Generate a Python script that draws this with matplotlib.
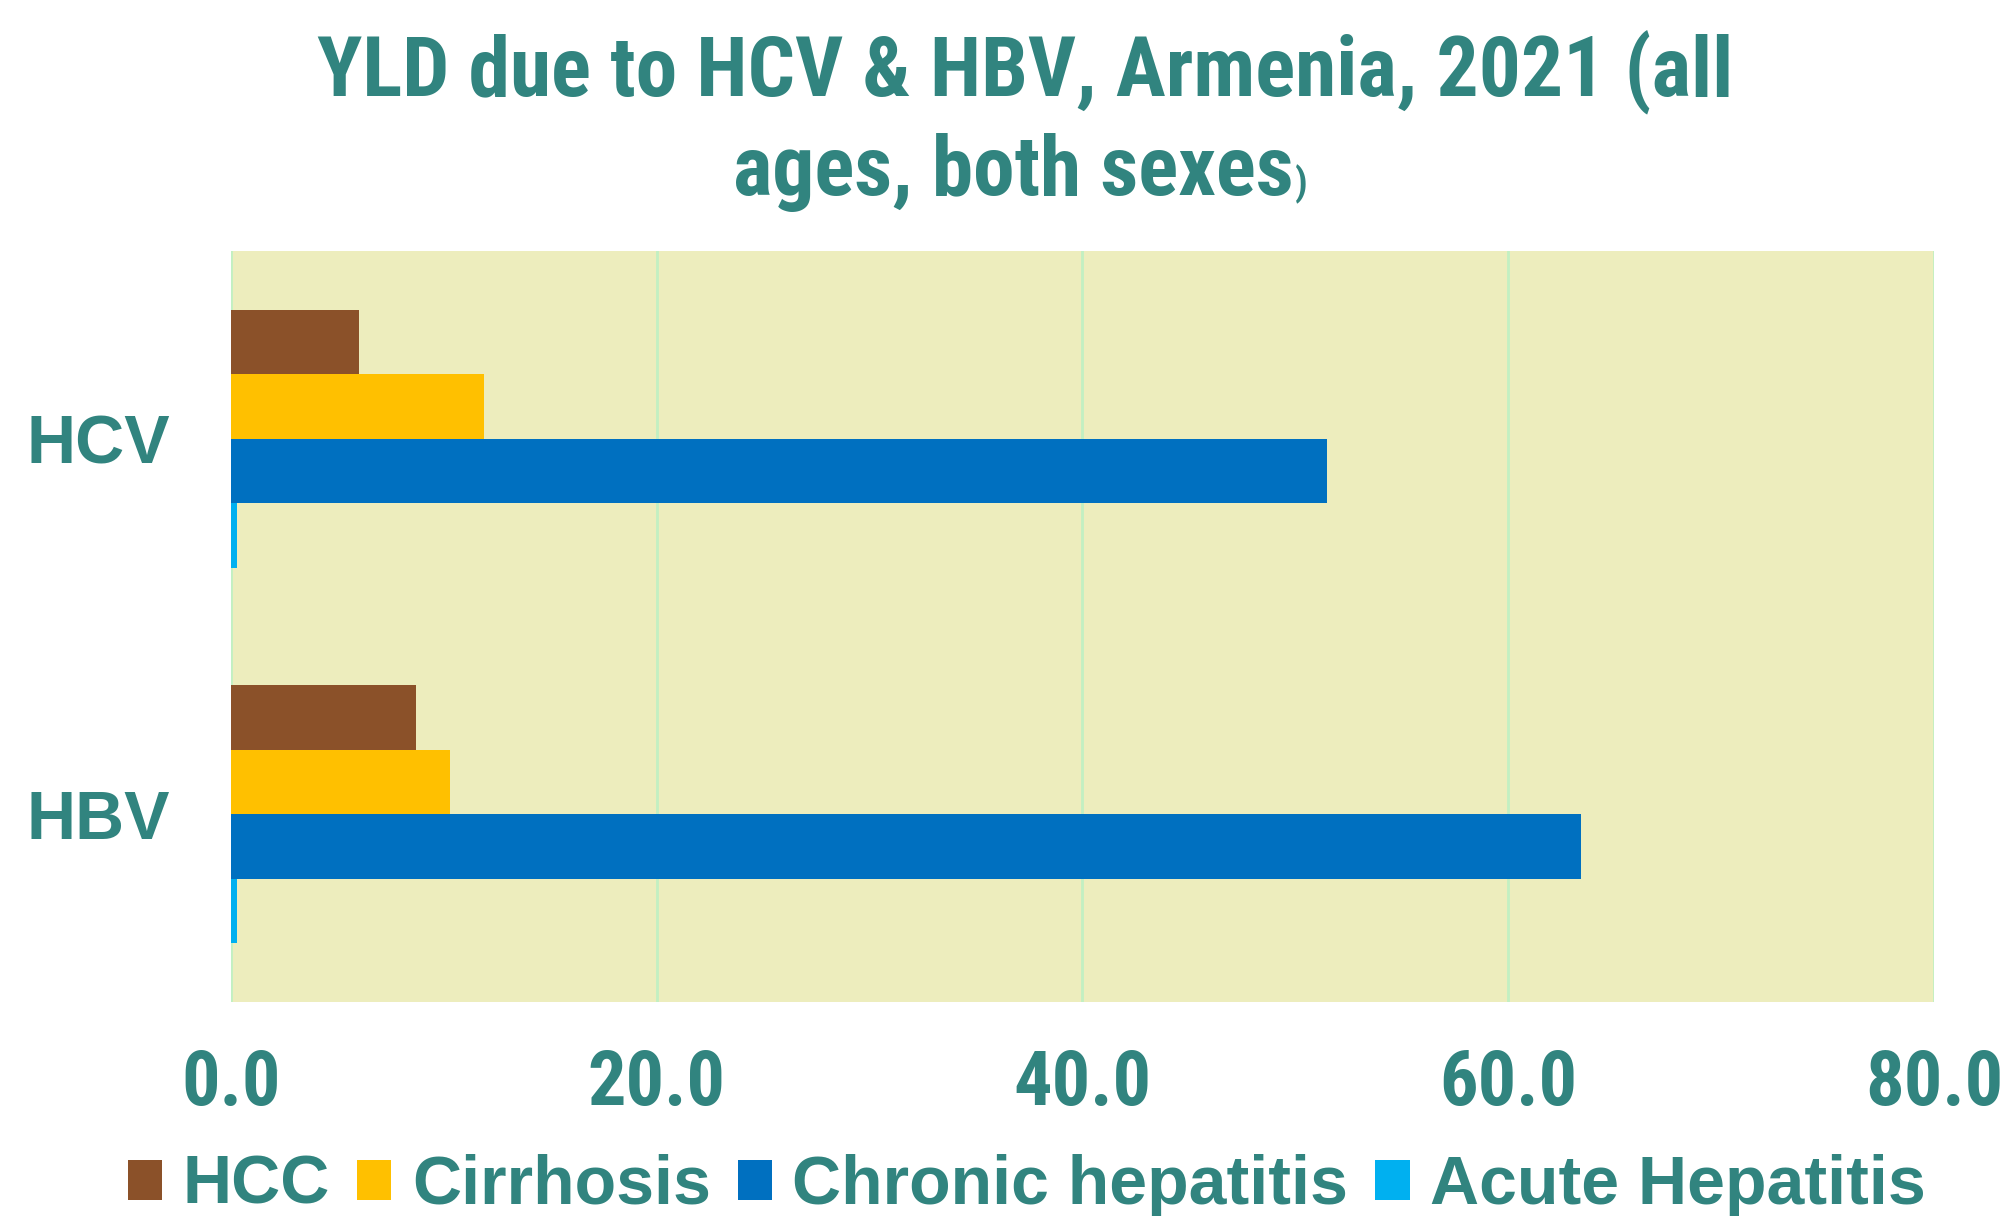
import matplotlib
matplotlib.use("Agg")
import matplotlib.pyplot as plt
import numpy as np
from matplotlib import font_manager as fm

categories = ["HCV", "HBV"]
series_names = ["HCC", "Cirrhosis", "Chronic hepatitis", "Acute Hepatitis"]
hcc = [6.0, 8.7]
cirrhosis = [11.9, 10.3]
chronic = [51.5, 63.4]
acute = [0.3, 0.3]
xticks = [0, 20, 40, 60, 80]
xtick_labels = ["0.0", "20.0", "40.0", "60.0", "80.0"]

colors = ["#8B5129", "#FFC000", "#0070C0", "#00B0F0"]
teal = "#31847F"
bg = "#EDEDBD"
grid_c = "#C2F0C2"

names = {f.name for f in fm.fontManager.ttflist}
narrow = "Liberation Sans"
for cand in ["Liberation Sans Narrow", "Nimbus Sans Narrow", "Arial Narrow",
             "Roboto Condensed", "Barlow Semi Condensed"]:
    if cand in names:
        narrow = cand
        break
wide = "Liberation Sans"

fig = plt.figure(figsize=(20.02, 12.16), dpi=100)
ax = fig.add_axes([0.1154, 0.176, 0.966 - 0.1154, 0.7936 - 0.176])
ax.set_facecolor(bg)

series = [hcc, cirrhosis, chronic, acute]
h = 0.172
y = np.arange(len(categories))
offsets = (np.arange(4) - 1.5) * h
for s, vals, c, off in zip(series_names, series, colors, offsets):
    ax.barh(y + off, vals, height=h, color=c, label=s, zorder=3)

ax.set_xlim(0, 80)
ax.set_ylim(1.5, -0.5)
ax.set_xticks(xticks)
ax.set_xticklabels(xtick_labels)
ax.set_yticks(y)
ax.set_yticklabels(categories)
ax.grid(axis="x", color=grid_c, linewidth=2, zorder=1)
ax.tick_params(axis="both", length=0)
ax.tick_params(axis="x", pad=33, labelsize=55, labelcolor=teal)
ax.tick_params(axis="y", pad=44, labelsize=49, labelcolor=teal)
for lab in ax.get_xticklabels():
    lab.set_fontfamily(narrow)
    lab.set_fontweight("bold")
for lab in ax.get_yticklabels():
    lab.set_fontfamily(wide)
    lab.set_fontweight("bold")
for sp in ax.spines.values():
    sp.set_visible(False)

# Title
fig.text(0.512, 1 - 72 / 1216, "YLD due to HCV & HBV, Armenia, 2021 (all",
         ha="center", va="center", fontsize=60, fontweight="bold",
         color=teal, family=narrow)
t2 = fig.text(0.506, 1 - 172 / 1216, "ages, both sexes",
              ha="center", va="center", fontsize=60, fontweight="bold",
              color=teal, family=narrow)
fig.canvas.draw()
r = fig.canvas.get_renderer()
bb = t2.get_window_extent(r)
fig.text(bb.x1 / fig.bbox.width + 0.001, bb.y0 / fig.bbox.height + 0.006, ")",
         ha="left", va="bottom", fontsize=28, fontweight="bold",
         color=teal, family=narrow)

leg = fig.legend(loc="center", bbox_to_anchor=(0.513, 1 - 1186 / 1216), ncol=4,
                 frameon=False, handlelength=0.5, handleheight=0.52,
                 handletextpad=0.3, columnspacing=0.4,
                 prop={"family": wide, "weight": "bold", "size": 49})
for t in leg.get_texts():
    t.set_color(teal)

fig.savefig("out.png", dpi=100)
